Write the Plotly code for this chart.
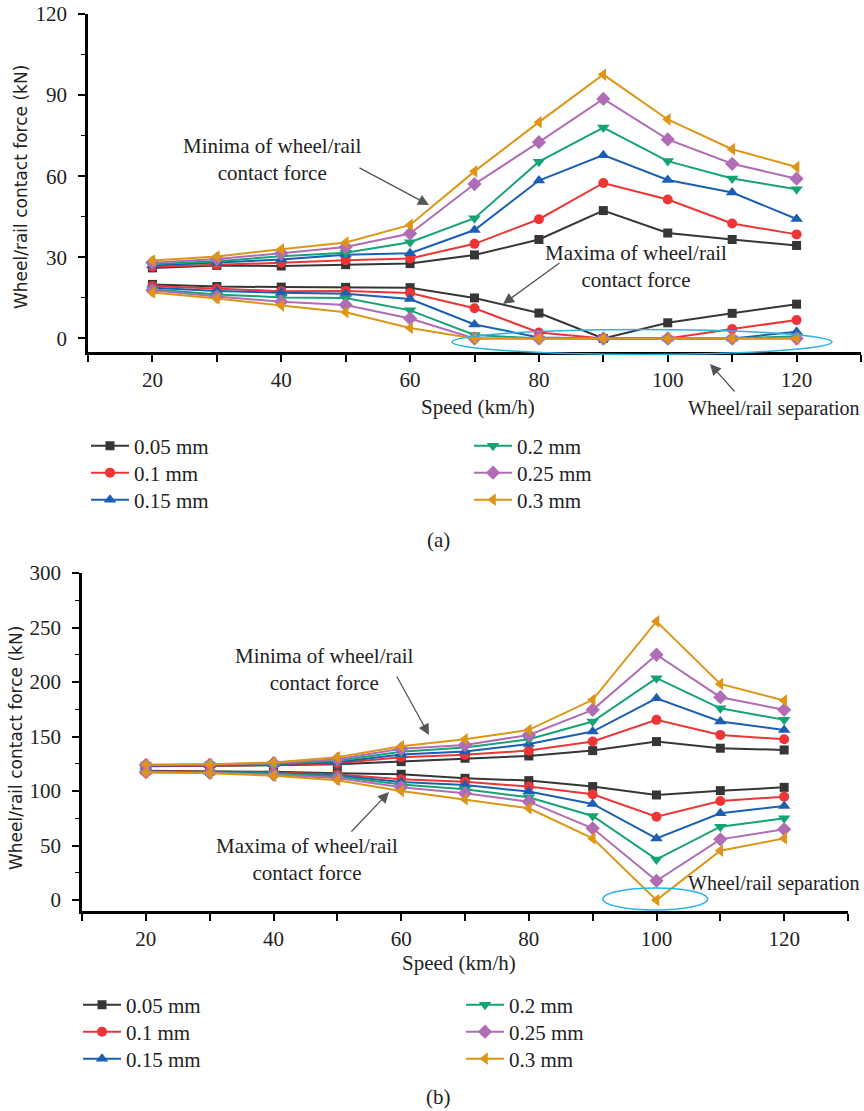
import plotly.graph_objects as go

# Speeds (km/h) and gap sizes
speed = [20, 30, 40, 50, 60, 70, 80, 90, 100, 110, 120]
gap_labels = ["0.05 mm", "0.1 mm", "0.15 mm", "0.2 mm", "0.25 mm", "0.3 mm"]

# Panel (a): minima (upper branch) of wheel/rail contact force, kN
a_min_005 = [26.1, 27.0, 26.8, 27.3, 27.7, 30.9, 36.6, 47.3, 39.0, 36.6, 34.4]
a_min_010 = [26.5, 27.2, 28.0, 28.9, 29.6, 35.0, 44.1, 57.5, 51.4, 42.5, 38.5]
a_min_015 = [27.0, 28.0, 29.2, 31.0, 31.5, 40.1, 58.4, 67.8, 58.6, 54.0, 44.2]
a_min_020 = [27.5, 28.6, 30.4, 31.7, 35.6, 44.5, 65.4, 78.0, 65.6, 59.2, 55.2]
a_min_025 = [28.0, 29.4, 31.5, 33.8, 38.8, 57.1, 72.6, 88.6, 73.6, 64.6, 59.1]
a_min_030 = [28.8, 30.3, 33.0, 35.5, 42.0, 61.8, 80.0, 97.6, 81.0, 70.0, 63.4]

# Panel (a): maxima (lower branch)
a_max_005 = [20.0, 19.2, 19.0, 18.9, 18.8, 15.0, 9.4, 0.0, 5.8, 9.3, 12.7]
a_max_010 = [19.4, 18.4, 17.5, 17.6, 16.8, 11.2, 2.2, 0.0, 0.0, 3.5, 6.8]
a_max_015 = [18.8, 17.6, 16.9, 16.5, 14.6, 5.2, 0.4, 0.0, 0.0, 0.0, 2.5]
a_max_020 = [18.2, 16.3, 15.2, 15.0, 10.4, 1.3, 0.0, 0.0, 0.0, 0.0, 0.8]
a_max_025 = [17.8, 15.5, 13.6, 12.4, 7.4, 0.0, 0.0, 0.0, 0.0, 0.0, 0.0]
a_max_030 = [17.0, 14.8, 12.2, 9.7, 3.9, 0.0, 0.0, 0.0, 0.0, 0.0, 0.0]

# Panel (b): minima (upper branch)
b_min_005 = [122.8, 123.0, 123.6, 124.5, 127.0, 130.1, 132.2, 137.1, 145.4, 139.3, 137.7]
b_min_010 = [123.0, 123.3, 124.0, 125.5, 131.0, 133.2, 137.1, 145.4, 165.3, 151.5, 147.5]
b_min_015 = [123.3, 123.6, 124.5, 126.5, 133.5, 136.2, 143.2, 154.6, 185.1, 163.8, 156.1]
b_min_020 = [123.6, 124.0, 125.0, 127.8, 136.0, 139.9, 147.5, 163.8, 203.5, 175.9, 165.3]
b_min_025 = [124.0, 124.3, 125.5, 129.2, 138.8, 142.3, 151.5, 174.5, 225.0, 186.1, 174.5]
b_min_030 = [124.3, 124.6, 126.3, 131.0, 141.2, 147.5, 156.1, 183.7, 255.6, 198.3, 183.0]

# Panel (b): maxima (lower branch)
b_max_005 = [118.6, 118.0, 117.6, 116.3, 115.4, 111.7, 109.6, 104.1, 96.4, 100.4, 103.4]
b_max_010 = [118.2, 117.6, 117.0, 115.3, 110.8, 108.6, 104.1, 97.0, 76.5, 90.9, 94.9]
b_max_015 = [117.9, 117.3, 116.5, 114.3, 108.3, 105.6, 99.5, 88.2, 56.6, 79.6, 86.3]
b_max_020 = [117.6, 117.0, 116.0, 113.3, 106.0, 101.6, 94.3, 77.1, 37.3, 67.3, 75.0]
b_max_025 = [117.3, 116.7, 115.0, 112.0, 103.5, 97.9, 90.3, 65.8, 17.7, 55.7, 64.9]
b_max_030 = [117.0, 116.3, 114.0, 110.0, 100.0, 92.4, 84.2, 56.6, 0.0, 45.3, 56.6]

a_min = [a_min_005, a_min_010, a_min_015, a_min_020, a_min_025, a_min_030]
a_max = [a_max_005, a_max_010, a_max_015, a_max_020, a_max_025, a_max_030]
b_min = [b_min_005, b_min_010, b_min_015, b_min_020, b_min_025, b_min_030]
b_max = [b_max_005, b_max_010, b_max_015, b_max_020, b_max_025, b_max_030]

colors = ["#363636", "#ee3535", "#1b5fb3", "#16a373", "#b06cb6", "#dd9516"]
symbols = ["square", "circle", "triangle-up", "triangle-down", "diamond", "triangle-left"]
msizes = [9, 10, 11, 11, 11, 11]

W, H = 864, 1111
SERIF = "Liberation Serif, Times New Roman, serif"
SANS = "DejaVu Sans, Verdana, sans-serif"
FS = 21


def fx(p):
    return p / W


def fy(p):
    return 1 - p / H


XR = [10, 130]
YR_A = [-5, 120]
YR_B = [-10, 300]

fig = go.Figure()

# legend slots (x px, y px): two columns of three rows under each panel
legend_pos_a = [(86, 446), (86, 473), (86, 500), (469, 446), (469, 473), (469, 500)]
legend_pos_b = [(78, 1005), (78, 1032), (78, 1059), (461, 1005), (461, 1032), (461, 1059)]

for i, lab in enumerate(gap_labels):
    for branch, data in (("min", a_min[i]), ("max", a_max[i])):
        fig.add_trace(go.Scatter(
            x=speed, y=data, mode="lines+markers", name=lab,
            xaxis="x", yaxis="y",
            line=dict(color=colors[i], width=2),
            marker=dict(symbol=symbols[i], size=msizes[i], color=colors[i]),
            legend="legend" if i == 0 else f"legend{i + 1}",
            showlegend=(branch == "min"),
        ))
for i, lab in enumerate(gap_labels):
    for branch, data in (("min", b_min[i]), ("max", b_max[i])):
        fig.add_trace(go.Scatter(
            x=speed, y=data, mode="lines+markers", name=lab,
            xaxis="x2", yaxis="y2",
            line=dict(color=colors[i], width=2),
            marker=dict(symbol=symbols[i], size=msizes[i], color=colors[i]),
            legend=f"legend{i + 7}",
            showlegend=(branch == "min"),
        ))

axis_common = dict(
    showline=True, linecolor="black", linewidth=2.5, showgrid=False,
    zeroline=False, ticks="outside", ticklen=7, tickwidth=1.5, tickcolor="black",
    tickfont=dict(family=SERIF, size=FS, color="#222"), automargin=False,
)

layout = dict(
    width=W, height=H, margin=dict(l=0, r=0, t=0, b=0, autoexpand=False),
    paper_bgcolor="white", plot_bgcolor="white",
    xaxis=dict(domain=[fx(88), fx(861)], anchor="y", range=XR,
               tickvals=[20, 40, 60, 80, 100, 120], ticklabelstandoff=0,
               minor=dict(tick0=10, dtick=10, ticks="outside", ticklen=7,
                          tickwidth=1.5, tickcolor="black"),
               **axis_common),
    yaxis=dict(domain=[fy(352), fy(14)], anchor="x", range=YR_A,
               tick0=0, dtick=30, ticklabelstandoff=7,
               minor=dict(tick0=0, dtick=15, ticks="outside", ticklen=4,
                          tickwidth=1.2, tickcolor="black"),
               **axis_common),
    xaxis2=dict(domain=[fx(82), fx(848)], anchor="y2", range=XR,
                tickvals=[20, 40, 60, 80, 100, 120], ticklabelstandoff=0,
                minor=dict(tick0=10, dtick=10, ticks="outside", ticklen=7,
                           tickwidth=1.5, tickcolor="black"),
                **axis_common),
    yaxis2=dict(domain=[fy(911), fy(573)], anchor="x2", range=YR_B,
                tick0=0, dtick=50, ticklabelstandoff=7,
                minor=dict(tick0=0, dtick=25, ticks="outside", ticklen=4,
                           tickwidth=1.2, tickcolor="black"),
                **axis_common),
    showlegend=True,
)

# one single-entry legend per gap size
for i, (px_, py_) in enumerate(legend_pos_a + legend_pos_b):
    key = "legend" if i == 0 else f"legend{i + 1}"
    layout[key] = dict(
        x=fx(px_), y=fy(py_), xanchor="left", yanchor="middle",
        bgcolor="rgba(0,0,0,0)", borderwidth=0, itemwidth=38,
        font=dict(family=SERIF, size=FS, color="#222"),
    )

fig.update_layout(**layout)

annotations = []


def text(x, y, s, size=FS, family=SERIF, angle=0, xanchor="center"):
    annotations.append(dict(
        x=fx(x), y=fy(y), xref="paper", yref="paper", text=s, showarrow=False,
        xanchor=xanchor, yanchor="middle", textangle=angle,
        font=dict(family=family, size=size, color="#222"),
    ))


def arrow(tail, head):
    annotations.append(dict(
        x=fx(head[0]), y=fy(head[1]), xref="paper", yref="paper", text="",
        showarrow=True, ax=tail[0] - head[0], ay=tail[1] - head[1],
        axref="pixel", ayref="pixel",
        arrowhead=2, arrowsize=1.7, arrowwidth=1.3, arrowcolor="#555",
    ))


# panel (a)
text(21, 187, "Wheel/rail contact force (kN)", size=17, family=SANS, angle=-90)
text(478, 407, "Speed (km/h)")
text(272, 160, "Minima of wheel/rail<br>contact force")
arrow((358, 167), (429, 205))
text(636, 266, "Maxima of wheel/rail<br>contact force")
arrow((561, 262), (503, 304))
text(862, 409, "Wheel/rail separation", size=20, xanchor="right")
arrow((736, 393), (710, 364))
text(438, 540, "(a)")

# panel (b)
text(16, 748, "Wheel/rail contact force (kN)", size=17, family=SANS, angle=-90)
text(459, 963, "Speed (km/h)")
text(324, 669, "Minima of wheel/rail<br>contact force")
arrow((396, 675), (429, 735))
text(307, 859, "Maxima of wheel/rail<br>contact force")
arrow((350, 833), (389, 792))
text(862, 883, "Wheel/rail separation", size=20, xanchor="right")
text(438, 1097, "(b)")

fig.update_layout(annotations=annotations)


def dom(v, rng):
    return (v - rng[0]) / (rng[1] - rng[0])


# ellipses marking the separation zones (data units -> axis-domain fractions)
sep_a = dict(xc=96.0, yc=-1.3, rx=29.5, ry=4.6)
sep_b = dict(xc=99.8, yc=1.0, rx=8.2, ry=10.0)
for e, xr, yr, ax_ in ((sep_a, XR, YR_A, ""), (sep_b, XR, YR_B, "2")):
    fig.add_shape(
        type="circle", xref=f"x{ax_} domain", yref=f"y{ax_} domain",
        x0=dom(e["xc"] - e["rx"], xr), x1=dom(e["xc"] + e["rx"], xr),
        y0=dom(e["yc"] - e["ry"], yr), y1=dom(e["yc"] + e["ry"], yr),
        line=dict(color="#2bb3e6", width=1.5), layer="above",
    )

fig.write_html("out.html")
